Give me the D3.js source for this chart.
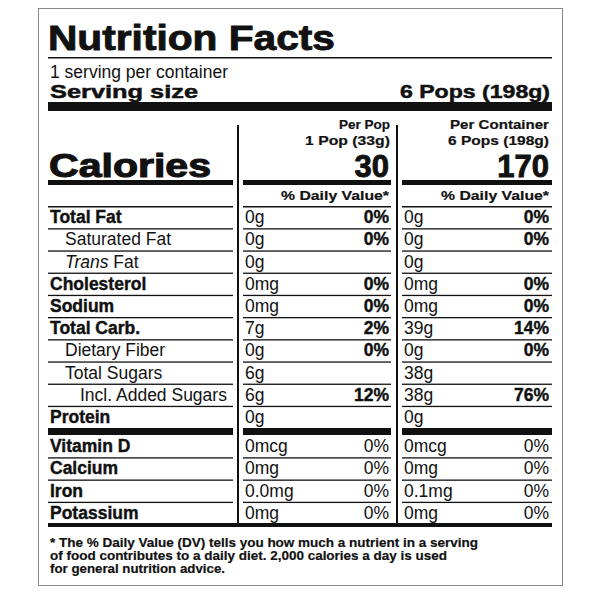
<!DOCTYPE html>
<html><head><meta charset="utf-8">
<script src="https://cdn.jsdelivr.net/npm/d3@7"></script>
<style>body{margin:0;background:#fff}text{font-family:"Liberation Sans",Arial,sans-serif;fill:#111}</style>
</head><body><svg id="c" width="600" height="600"></svg>
<script>
const nutrients = ["Total Fat","Saturated Fat","Trans Fat","Cholesterol","Sodium","Total Carb.","Dietary Fiber","Total Sugars","Incl. Added Sugars","Protein"];
const indent = [0,1,1,0,0,0,1,1,2,0];
const boldLabel = [1,0,0,1,1,1,0,0,0,1];
const perPopAmt = ["0g","0g","0g","0mg","0mg","7g","0g","6g","6g","0g"];
const perPopDV = ["0%","0%","","0%","0%","2%","0%","","12%",""];
const perContAmt = ["0g","0g","0g","0mg","0mg","39g","0g","38g","38g","0g"];
const perContDV = ["0%","0%","","0%","0%","14%","0%","","76%",""];
const vitamins = ["Vitamin D","Calcium","Iron","Potassium"];
const vitPopAmt = ["0mcg","0mg","0.0mg","0mg"];
const vitPopDV = ["0%","0%","0%","0%"];
const vitContAmt = ["0mcg","0mg","0.1mg","0mg"];
const vitContDV = ["0%","0%","0%","0%"];
const calories = [30, 170];

const svg = d3.select("#c");
svg.append("rect").attr("x",38.5).attr("y",8.5).attr("width",524).attr("height",577).attr("fill","#fff").attr("stroke","#888");

const cols = [[48,233],[243,391],[402,552]];
function rule(y,h,segs){segs.forEach(s=>svg.append("rect").attr("x",s[0]).attr("y",y).attr("width",s[1]-s[0]).attr("height",h).attr("fill","#111"));}
function txt(x,y,t,size,w,anchor){return svg.append("text").attr("x",x).attr("y",y).attr("font-size",size).attr("font-weight",w||"normal").attr("text-anchor",anchor||"start").text(t);}
function fit(sel,len){return sel.attr("textLength",len).attr("lengthAdjust","spacingAndGlyphs");}

fit(txt(48,50,"Nutrition Facts",35,"bold").attr("stroke","#111").attr("stroke-width",0.9),287);
rule(57,1.5,[[48,552]]);
txt(50,78,"1 serving per container",17.5);
fit(txt(50,98,"Serving size",19,"bold").attr("stroke","#111").attr("stroke-width",0.5),148);
fit(txt(550,98,"6 Pops (198g)",19,"bold","end").attr("stroke","#111").attr("stroke-width",0.5),150);
rule(102,9,[[48,552]]);

// vertical separators
[238,397].forEach(x=>svg.append("rect").attr("x",x-1).attr("y",125).attr("width",2).attr("height",400).attr("fill","#111"));

const hs = 13.5;
txt(390,129,"Per Pop",hs,"bold","end").attr("stroke","#111").attr("stroke-width",0.2);
fit(txt(390,145,"1 Pop (33g)",hs,"bold","end").attr("stroke","#111").attr("stroke-width",0.2),85);
fit(txt(549,129,"Per Container",hs,"bold","end").attr("stroke","#111").attr("stroke-width",0.2),99);
fit(txt(549,145,"6 Pops (198g)",hs,"bold","end").attr("stroke","#111").attr("stroke-width",0.2),101);
fit(txt(49,177,"Calories",33,"bold").attr("stroke","#111").attr("stroke-width",1.1),162);
txt(389,177,calories[0],31,"bold","end").attr("stroke","#111").attr("stroke-width",0.9);
txt(549,177,calories[1],31,"bold","end").attr("stroke","#111").attr("stroke-width",0.9);
rule(180,5,cols);
fit(txt(389,200,"% Daily Value*",hs,"bold","end").attr("stroke","#111").attr("stroke-width",0.2),108);
fit(txt(549,200,"% Daily Value*",hs,"bold","end").attr("stroke","#111").attr("stroke-width",0.2),108);

const fs = 17.5;
const y = d3.scaleBand().domain(d3.range(nutrients.length)).range([206,428]);
rule(206,1.5,cols);
nutrients.forEach((n,i)=>{
  const yy=y(i), base=yy+y.bandwidth()/2+6;
  if(i>0) rule(yy,1.3,cols);
  const l=txt(50+indent[i]*15,base,"",fs,boldLabel[i]?"bold":"normal");
  if(boldLabel[i]) l.attr("stroke","#111").attr("stroke-width",0.4);
  if(n==="Trans Fat"){l.append("tspan").attr("font-style","italic").text("Trans");l.append("tspan").text(" Fat");} else l.text(n);
  txt(245,base,perPopAmt[i],fs);
  txt(389,base,perPopDV[i],fs,"bold","end").attr("stroke","#111").attr("stroke-width",0.4);
  txt(404,base,perContAmt[i],fs);
  txt(549,base,perContDV[i],fs,"bold","end").attr("stroke","#111").attr("stroke-width",0.4);
});
rule(428,7,cols);
const yv = d3.scaleBand().domain(d3.range(vitamins.length)).range([435,524]);
vitamins.forEach((n,i)=>{
  const yy=yv(i), base=yy+yv.bandwidth()/2+6;
  if(i>0) rule(yy,1.3,cols);
  txt(50,base,n,fs,"bold").attr("stroke","#111").attr("stroke-width",0.4);
  txt(245,base,vitPopAmt[i],fs);
  txt(389,base,vitPopDV[i],fs,"normal","end");
  txt(404,base,vitContAmt[i],fs);
  txt(549,base,vitContDV[i],fs,"normal","end");
});
rule(523,4,[[48,552]]);
const foot = ["* The % Daily Value (DV) tells you how much a nutrient in a serving","of food contributes to a daily diet. 2,000 calories a day is used","for general nutrition advice."];
const footLen = [428,397,175];
foot.forEach((t,i)=>fit(txt(50,547+i*13,t,13,"bold").attr("stroke","#111").attr("stroke-width",0.2),footLen[i]));
</script></body></html>
